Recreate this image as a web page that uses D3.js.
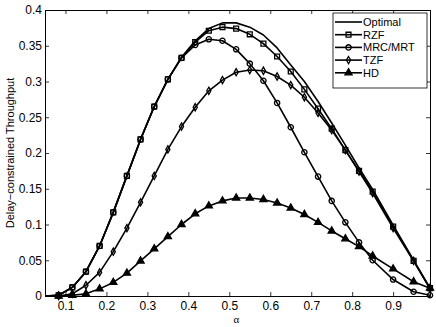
<!DOCTYPE html>
<html>
<head>
  <meta charset="UTF-8" />
  <title>Delay-constrained Throughput</title>
  <script src="https://d3js.org/d3.v7.min.js"></script>
  <style>
    body { margin: 0; background: #fff; }
    text { font-family: "Liberation Sans", Arial, sans-serif; font-size: 12px; fill: #000; }
  </style>
</head>
<body>
  <div id="chart"></div>
  <script>
    // values
    const alpha = [0.05, 0.0833, 0.1167, 0.15, 0.1833, 0.2167, 0.25, 0.2833, 0.3167, 0.35,
      0.3833, 0.4167, 0.45, 0.4833, 0.5167, 0.55, 0.5833, 0.6167, 0.65, 0.6833,
      0.7167, 0.75, 0.7833, 0.8167, 0.85, 0.9, 0.95, 0.99];
    const optimal = [0, 0.001, 0.012, 0.034, 0.070, 0.117, 0.168, 0.219, 0.265, 0.303,
      0.334, 0.357, 0.374, 0.382, 0.382, 0.376, 0.365, 0.347, 0.323, 0.300,
      0.272, 0.242, 0.211, 0.179, 0.149, 0.099, 0.050, 0.011];
    const rzf = [0, 0.001, 0.012, 0.034, 0.070, 0.117, 0.168, 0.219, 0.265, 0.303,
      0.333, 0.355, 0.371, 0.376, 0.374, 0.366, 0.353, 0.335, 0.314, 0.289,
      0.262, 0.234, 0.204, 0.175, 0.146, 0.097, 0.049, 0.011];
    const mrc = [0, 0.001, 0.012, 0.034, 0.070, 0.117, 0.168, 0.219, 0.265, 0.303,
      0.333, 0.351, 0.359, 0.357, 0.345, 0.325, 0.301, 0.270, 0.236, 0.201,
      0.167, 0.133, 0.103, 0.075, 0.050, 0.023, 0.006, 0.001];
    const tzf = [0, 0, 0.003, 0.015, 0.033, 0.062, 0.095, 0.131, 0.168, 0.205,
      0.237, 0.264, 0.287, 0.302, 0.313, 0.316, 0.315, 0.307, 0.295, 0.278,
      0.256, 0.232, 0.204, 0.174, 0.144, 0.095, 0.049, 0.010];
    const hd = [0, 0, 0.001, 0.003, 0.010, 0.019, 0.032, 0.049, 0.066, 0.083,
      0.100, 0.115, 0.126, 0.133, 0.137, 0.137, 0.135, 0.130, 0.123, 0.114,
      0.103, 0.091, 0.080, 0.069, 0.056, 0.038, 0.020, 0.011];
    const xTicks = [0.1, 0.2, 0.3, 0.4, 0.5, 0.6, 0.7, 0.8, 0.9];
    const yTicks = [0, 0.05, 0.1, 0.15, 0.2, 0.25, 0.3, 0.35, 0.4];

    const series = [
      { name: "Optimal", values: optimal, marker: null },
      { name: "RZF", values: rzf, marker: "square" },
      { name: "MRC/MRT", values: mrc, marker: "circle" },
      { name: "TZF", values: tzf, marker: "diamond" },
      { name: "HD", values: hd, marker: "triangle" }
    ];

    const W = 436, H = 327;
    const mLeft = 45, mRight = 430, mTop = 10, mBottom = 296;

    const svg = d3.select("#chart").append("svg")
      .attr("width", W)
      .attr("height", H);

    const x = d3.scaleLinear().domain([0.05, 0.99]).range([mLeft, mRight]);
    const y = d3.scaleLinear().domain([0, 0.4]).range([mBottom, mTop]);

    // axes, ticks pointing inward on all four sides
    svg.append("g")
      .attr("transform", "translate(0," + mBottom + ")")
      .call(d3.axisBottom(x).tickValues(xTicks).tickSize(-4).tickPadding(5)
        .tickFormat(d3.format("~g")));
    svg.append("g")
      .attr("transform", "translate(0," + mTop + ")")
      .call(d3.axisTop(x).tickValues(xTicks).tickSize(-4).tickFormat(""));
    svg.append("g")
      .attr("transform", "translate(" + mLeft + ",0)")
      .call(d3.axisLeft(y).tickValues(yTicks).tickSize(-4).tickPadding(3)
        .tickFormat(d3.format("~g")));
    svg.append("g")
      .attr("transform", "translate(" + mRight + ",0)")
      .call(d3.axisRight(y).tickValues(yTicks).tickSize(-4).tickFormat(""));

    svg.selectAll(".domain").attr("stroke", "#000").attr("stroke-width", 1);
    svg.selectAll(".tick line").attr("stroke", "#000").attr("stroke-width", 0.8);
    svg.selectAll(".tick text").style("font-size", "12px");

    // axis titles
    svg.append("text")
      .attr("x", (mLeft + mRight) / 2 - 1)
      .attr("y", 323)
      .attr("text-anchor", "middle")
      .style("font-family", "'Liberation Serif', serif")
      .style("font-size", "11px")
      .text("α");
    svg.append("text")
      .attr("transform", "translate(14," + (mTop + mBottom) / 2 + ") rotate(-90)")
      .attr("text-anchor", "middle")
      .style("font-size", "11px")
      .text("Delay\u2212constrained Throughput");

    const line = d3.line()
      .x((d, i) => x(alpha[i]))
      .y(d => y(d));

    const symbols = {
      square: d3.symbol().type(d3.symbolSquare).size(24),
      circle: d3.symbol().type(d3.symbolCircle).size(22),
      diamond: d3.symbol().type(d3.symbolDiamond).size(15),
      triangle: d3.symbol().type(d3.symbolTriangle).size(22)
    };

    series.forEach(s => {
      svg.append("path")
        .datum(s.values)
        .attr("fill", "none")
        .attr("stroke", "#000")
        .attr("stroke-width", 1.6)
        .attr("stroke-linejoin", "round")
        .attr("d", line);
      if (s.marker) {
        svg.append("g").selectAll("path")
          .data(s.values.slice(1))
          .enter()
          .append("path")
          .attr("transform", (d, i) => "translate(" + x(alpha[i + 1]) + "," + y(d) + ")")
          .attr("d", symbols[s.marker])
          .attr("fill", s.marker === "triangle" ? "#000" : "none")
          .attr("stroke", "#000")
          .attr("stroke-width", 1.3);
      }
    });

    // legend
    const lg = svg.append("g");
    lg.append("rect")
      .attr("x", 333).attr("y", 13)
      .attr("width", 94).attr("height", 75)
      .attr("fill", "#fff")
      .attr("stroke", "#000")
      .attr("stroke-width", 0.8);
    series.forEach((s, i) => {
      const ly = 22 + i * 12.7;
      lg.append("line")
        .attr("x1", 335).attr("x2", 362)
        .attr("y1", ly).attr("y2", ly)
        .attr("stroke", "#000").attr("stroke-width", 1.6);
      if (s.marker) {
        lg.append("path")
          .attr("transform", "translate(348.5," + ly + ")")
          .attr("d", symbols[s.marker])
          .attr("fill", s.marker === "triangle" ? "#000" : "none")
          .attr("stroke", "#000")
          .attr("stroke-width", 1.3);
      }
      lg.append("text")
        .attr("x", 363)
        .attr("y", ly + 4)
        .style("font-size", "11px")
        .text(s.name);
    });
  </script>
</body>
</html>
